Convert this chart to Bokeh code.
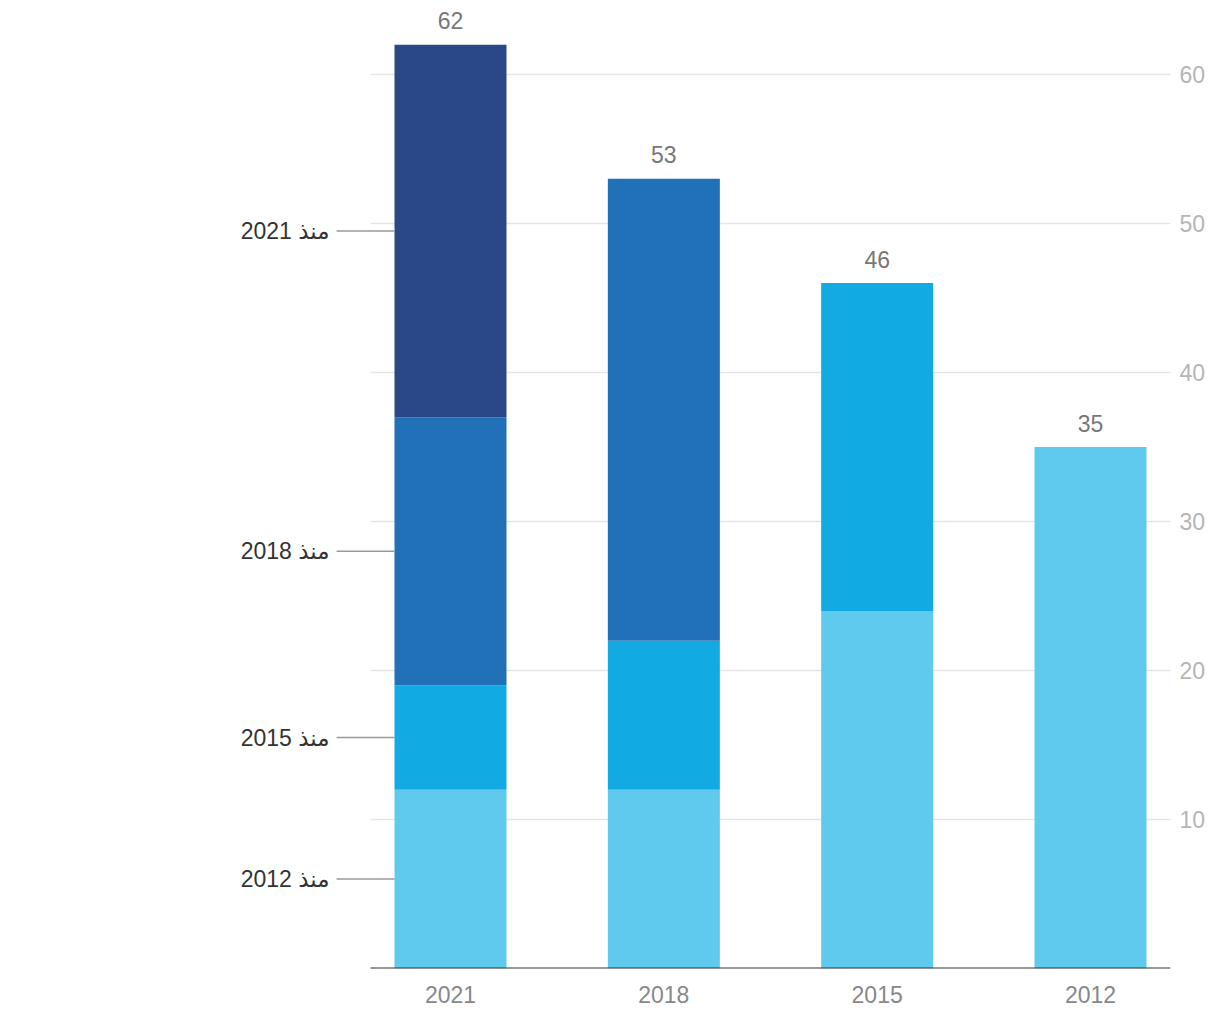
from bokeh.plotting import figure
from bokeh.models import Range1d, FixedTicker, ColumnDataSource
from bokeh.core.properties import value
from bokeh.embed import file_html
from bokeh.resources import INLINE

# ---- data ----
years = ["2021", "2018", "2015", "2012"]
since_2012 = [12, 12, 24, 35]
since_2015 = [7, 10, 22, 0]
since_2018 = [18, 31, 0, 0]
since_2021 = [25, 0, 0, 0]
series_labels = ["منذ 2012", "منذ 2015", "منذ 2018", "منذ 2021"]
colors = ["#60caee", "#12aae2", "#2171b9", "#2a4788"]
y_ticks = [10, 20, 30, 40, 50, 60]

FONT = "Liberation Sans, DejaVu Sans"

xs = list(range(len(years)))
totals = [a + b + c + d for a, b, c, d in zip(since_2012, since_2015, since_2018, since_2021)]
src = ColumnDataSource(dict(x=xs, s12=since_2012, s15=since_2015, s18=since_2018, s21=since_2021))

p = figure(width=1212, height=1012, output_backend="svg", toolbar_location=None,
           x_range=Range1d(-450 / 213.33, 3.375), y_range=Range1d(0, 964 / 14.9),
           y_axis_location="right",
           min_border_left=0, min_border_right=42, min_border_top=4, min_border_bottom=44)
p.outline_line_color = None
p.xgrid.visible = False
p.ygrid.visible = False
p.background_fill_color = "white"
p.border_fill_color = "white"

# grid lines (restricted to chart area)
gx0, gx1 = -0.375, 3.375
p.segment(x0=[gx0] * len(y_ticks), x1=[gx1] * len(y_ticks), y0=y_ticks, y1=y_ticks,
          line_color="#e6e6e6", line_width=1.5)

bar_w = 0.525
p.vbar_stack(["s12", "s15", "s18", "s21"], x="x", width=bar_w, color=colors,
             line_color=None, source=src)

# baseline
p.segment(x0=[gx0], x1=[gx1], y0=[0], y1=[0], line_color="#333333", line_width=2)

# totals
p.text(x=xs, y=totals, text=[str(t) for t in totals], text_align="center",
       text_baseline="alphabetic", y_offset=-24, text_color="#777777",
       text_font=value(FONT), text_font_size="23px")

# series labels with leader lines for first bar
first = [since_2012[0], since_2015[0], since_2018[0], since_2021[0]]
mids = []
cum = 0
for v in first:
    mids.append(cum + v / 2)
    cum += v
lead_x0 = -0.534
lead_x1 = xs[0] - bar_w / 2
p.segment(x0=[lead_x0] * 4, x1=[lead_x1] * 4, y0=mids, y1=mids,
          line_color="#999999", line_width=1.5)
p.text(x=[-0.567] * 4, y=mids, text=series_labels, text_align="right",
       text_baseline="middle", text_color="#333333",
       text_font=value(FONT), text_font_size="23px")

# x axis labels
xa = p.xaxis[0]
xa.ticker = FixedTicker(ticks=xs)
xa.major_label_overrides = {i: y for i, y in zip(xs, years)}
xa.axis_line_color = None
xa.major_tick_line_color = None
xa.minor_tick_line_color = None
xa.major_label_standoff = 11
xa.major_label_text_color = "#888888"
xa.major_label_text_font = FONT
xa.major_label_text_font_size = "23px"

# right y axis
ya = p.yaxis[0]
ya.ticker = FixedTicker(ticks=y_ticks)
ya.axis_line_color = None
ya.major_tick_line_color = None
ya.minor_tick_line_color = None
ya.major_label_standoff = 3
ya.major_label_text_color = "#b5b5b5"
ya.major_label_text_font = FONT
ya.major_label_text_font_size = "23px"

open("out.html", "w").write(file_html(p, INLINE))
